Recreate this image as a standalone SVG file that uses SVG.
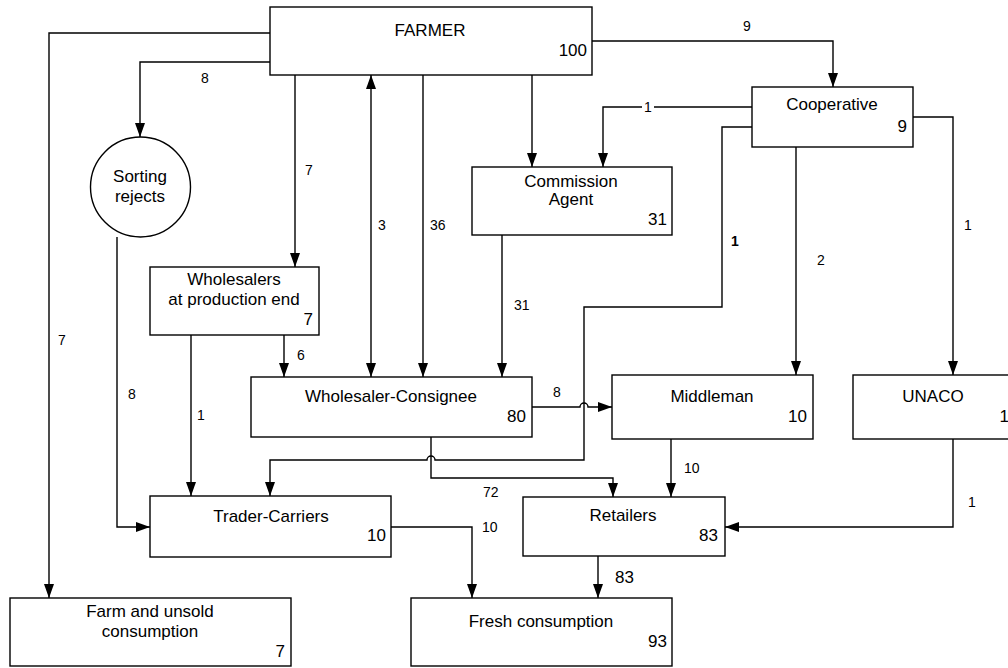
<svg xmlns="http://www.w3.org/2000/svg" width="1008" height="668" viewBox="0 0 1008 668">
  <defs>
    <marker id="arr" viewBox="0 0 14 10" refX="14" refY="5" markerWidth="14" markerHeight="10" markerUnits="userSpaceOnUse" orient="auto-start-reverse">
      <path d="M0,0 L14,5 L0,10 z" fill="#000"/>
    </marker>
    <style>
      .box { fill: #fff; stroke: #000; stroke-width: 1.4; }
      .edge { fill: none; stroke: #000; stroke-width: 1.4; }
      .t { font-family: "Liberation Sans", Arial, sans-serif; font-size: 17px; fill: #000; }
      .c { text-anchor: middle; }
      .r { text-anchor: end; }
      .lbl { font-family: "Liberation Sans", Arial, sans-serif; font-size: 14px; fill: #000; }
    </style>
  </defs>
  <rect width="1008" height="668" fill="#fff"/>

  <!-- connectors -->
  <g id="connectors">
    <path class="edge" d="M270,33 H49 V598" marker-end="url(#arr)"/>
    <path class="edge" d="M270,62 H140 V137" marker-end="url(#arr)"/>
    <path class="edge" d="M295,75 V267" marker-end="url(#arr)"/>
    <path class="edge" d="M371,75 V377" marker-start="url(#arr)" marker-end="url(#arr)"/>
    <path class="edge" d="M423,75 V377" marker-end="url(#arr)"/>
    <path class="edge" d="M532,75 V167" marker-end="url(#arr)"/>
    <path class="edge" d="M502,235 V377" marker-end="url(#arr)"/>
    <path class="edge" d="M592,41 H833 V87" marker-end="url(#arr)"/>
    <path class="edge" d="M752,107 H603 V167" marker-end="url(#arr)"/>
    <path class="edge" d="M752,127 H722 V307 H584 V460 H435 A4,4 0 0 0 427,460 H270 V496" marker-end="url(#arr)"/>
    <path class="edge" d="M796,147 V375" marker-end="url(#arr)"/>
    <path class="edge" d="M913,117 H953 V375" marker-end="url(#arr)"/>
    <path class="edge" d="M532,407 H580 A4,4 0 0 1 588,407 H612" marker-end="url(#arr)"/>
    <path class="edge" d="M431,437 V478 H613 V497" marker-end="url(#arr)"/>
    <path class="edge" d="M284,335 V377" marker-end="url(#arr)"/>
    <path class="edge" d="M191,335 V496" marker-end="url(#arr)"/>
    <path class="edge" d="M117,237 V527 H150" marker-end="url(#arr)"/>
    <path class="edge" d="M671,439 V497" marker-end="url(#arr)"/>
    <path class="edge" d="M953,439 V527 H725" marker-end="url(#arr)"/>
    <path class="edge" d="M391,527 H472 V598" marker-end="url(#arr)"/>
    <path class="edge" d="M598,556 V598" marker-end="url(#arr)"/>

    <!-- flow labels -->
    <text class="lbl" x="201" y="83">8</text>
    <text class="lbl" x="305" y="175">7</text>
    <text class="lbl" x="378" y="230">3</text>
    <text class="lbl" x="430" y="230">36</text>
    <text class="lbl" x="743" y="31">9</text>
    <rect x="642" y="99" width="12" height="16" fill="#fff"/>
    <text class="lbl c" x="648" y="112">1</text>
    <text class="lbl" x="731" y="246" font-weight="bold">1</text>
    <text class="lbl" x="964" y="230">1</text>
    <text class="lbl" x="817" y="265">2</text>
    <text class="lbl" x="514" y="310">31</text>
    <text class="lbl" x="58" y="345">7</text>
    <text class="lbl" x="128" y="399">8</text>
    <text class="lbl" x="197" y="420">1</text>
    <text class="lbl" x="297" y="360">6</text>
    <text class="lbl" x="553" y="397">8</text>
    <text class="lbl" x="684" y="473">10</text>
    <text class="lbl" x="483" y="497">72</text>
    <text class="lbl" x="482" y="532">10</text>
    <text class="t" x="615" y="583">83</text>
    <text class="lbl" x="968" y="507">1</text>
  </g>

  <!-- nodes -->
  <g id="farmer">
    <rect class="box" x="270" y="7" width="322" height="68"/>
    <text class="t c" x="430" y="36">FARMER</text>
    <text class="t r" x="587" y="56">100</text>
  </g>
  <g id="cooperative">
    <rect class="box" x="752" y="87" width="161" height="60"/>
    <text class="t c" x="832" y="110">Cooperative</text>
    <text class="t r" x="907" y="132">9</text>
  </g>
  <g id="commission-agent">
    <rect class="box" x="472" y="167" width="200" height="68"/>
    <text class="t c" x="571" y="187">Commission</text>
    <text class="t c" x="571" y="205">Agent</text>
    <text class="t r" x="667" y="225">31</text>
  </g>
  <g id="sorting-rejects">
    <circle class="box" cx="140.5" cy="187" r="50"/>
    <text class="t c" x="140" y="182">Sorting</text>
    <text class="t c" x="140" y="202">rejects</text>
  </g>
  <g id="wholesalers-production">
    <rect class="box" x="150" y="267" width="169" height="68"/>
    <text class="t c" x="234" y="285">Wholesalers</text>
    <text class="t c" x="234" y="305">at production end</text>
    <text class="t r" x="313" y="325">7</text>
  </g>
  <g id="wholesaler-consignee">
    <rect class="box" x="251" y="377" width="281" height="60"/>
    <text class="t c" x="391" y="402">Wholesaler-Consignee</text>
    <text class="t r" x="526" y="422">80</text>
  </g>
  <g id="middleman">
    <rect class="box" x="612" y="375" width="201" height="64"/>
    <text class="t c" x="712" y="402">Middleman</text>
    <text class="t r" x="807" y="422">10</text>
  </g>
  <g id="unaco">
    <rect class="box" x="853" y="375" width="162" height="64"/>
    <text class="t c" x="933" y="402">UNACO</text>
    <text class="t r" x="1009" y="422">1</text>
  </g>
  <g id="trader-carriers">
    <rect class="box" x="150" y="496" width="241" height="61"/>
    <text class="t c" x="271" y="522">Trader-Carriers</text>
    <text class="t r" x="386" y="541">10</text>
  </g>
  <g id="retailers">
    <rect class="box" x="523" y="497" width="202" height="59"/>
    <text class="t c" x="623" y="521">Retailers</text>
    <text class="t r" x="718" y="541">83</text>
  </g>
  <g id="farm-consumption">
    <rect class="box" x="10" y="598" width="281" height="68"/>
    <text class="t c" x="150" y="617">Farm and unsold</text>
    <text class="t c" x="150" y="637">consumption</text>
    <text class="t r" x="285" y="657">7</text>
  </g>
  <g id="fresh-consumption">
    <rect class="box" x="411" y="598" width="261" height="68"/>
    <text class="t c" x="541" y="627">Fresh consumption</text>
    <text class="t r" x="667" y="647">93</text>
  </g>
</svg>
